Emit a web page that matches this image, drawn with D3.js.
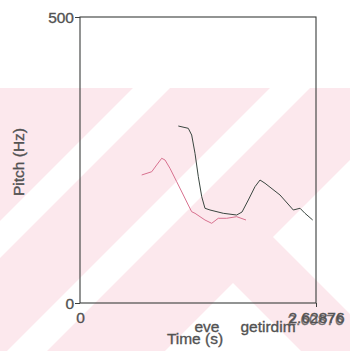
<!DOCTYPE html>
<html><head><meta charset="utf-8">
<script src="https://cdn.jsdelivr.net/npm/d3@7"></script>
<style>body{margin:0;background:#fff}svg{display:block}</style>
</head><body>
<script>
// data
const pinkTime = [0.687,0.799,0.854,0.910,0.947,1.002,1.077,1.151,1.206,1.244,1.281,1.337,1.392,1.467,1.540,1.634,1.745,1.849];
const pinkHz   = [223.8,229.5,241.3,253.0,250.0,235.5,212.1,188.8,171.3,159.6,156.8,150.9,145.1,139.3,148.1,148.1,150.9,145.1];
const darkTime = [1.095,1.206,1.244,1.281,1.318,1.356,1.392,1.448,1.596,1.745,1.805,1.875,1.949,2.005,2.061,2.228,2.376,2.451,2.506,2.592];
const darkHz   = [309.4,305.4,293.7,261.7,220.8,185.8,165.6,162.6,156.8,153.8,159.1,180.1,203.3,215.0,209.3,188.8,162.6,165.6,156.8,145.1];
const yTicks = [0, 500];
const xTickLabels = ["0", "2.62876"];
const xDomain = [0, 2.62876];
const words = ["eve", "getirdim"];

const W = 350, H = 351;
const svg = d3.select("body").append("svg").attr("width", W).attr("height", H);

// watermark background
const bg = svg.append("g");
bg.append("rect").attr("x",0).attr("y",88).attr("width",W).attr("height",H-88).attr("fill","#fce8ed");
const whites = [
  [[133,88],[170,88],[0,258],[0,221]],
  [[270,88],[310,88],[47,351],[7,351]],
  [[273,237],[350,160],[350,314]],
  [[233,283],[165,351],[301,351]]
];
bg.selectAll("polygon").data(whites).join("polygon")
  .attr("points", d => d.map(p => p.join(",")).join(" "))
  .attr("fill","#fff");

const L = 80, R = 316, T = 17, B = 303;
const x = d3.scaleLinear().domain(xDomain).range([L, R]);
const y = d3.scaleLinear().domain([0, 500]).range([B, T]);

const ink = "#3a3d3b", txt = "#525252";
const font = "Liberation Sans, Arial, sans-serif";
const styleText = s => s.attr("fill",txt).attr("stroke",txt).attr("stroke-width",0.35)
  .style("font-family",font).style("font-size","15.5px");

// frame
svg.append("rect").attr("x",L).attr("y",T).attr("width",R-L).attr("height",B-T)
  .attr("fill","none").attr("stroke",ink).attr("stroke-width",1.1);

// y axis ticks
const yAxis = d3.axisLeft(y).tickValues(yTicks).tickSize(5).tickPadding(1).tickFormat(d3.format("d"));
const ya = svg.append("g").attr("transform",`translate(${L},0)`).call(yAxis);
ya.select(".domain").remove();
ya.selectAll("line").attr("stroke",ink);
styleText(ya.selectAll("text")).attr("dy","0.35em");

// x axis labels
const xa = svg.append("g").attr("transform",`translate(0,${B})`)
  .call(d3.axisBottom(x).tickValues(xDomain).tickSize(4).tickFormat((d,i)=>xTickLabels[i]));
xa.select(".domain").remove();
xa.selectAll("line").attr("stroke",ink).attr("opacity", (d,i)=> i===1?1:0);
styleText(xa.selectAll("text")).attr("y",9);
// overlapping ghost label
styleText(svg.append("text").attr("x",x(xDomain[1])-0.5).attr("y",B+22).attr("text-anchor","middle"))
  .attr("opacity",0.8).text("2.60876");

// axis titles
styleText(svg.append("text").attr("x",195).attr("y",344).attr("text-anchor","middle")).text("Time (s)");
styleText(svg.append("text").attr("transform","translate(24,162) rotate(-90)").attr("text-anchor","middle")).text("Pitch (Hz)");

// words
styleText(svg.append("text").attr("x",207).attr("y",332).attr("text-anchor","middle")).text(words[0]);
styleText(svg.append("text").attr("x",268).attr("y",332).attr("text-anchor","middle")).text(words[1]);

// curves
const line = d3.line().x(d=>x(d[0])).y(d=>y(d[1]));
svg.append("path").datum(d3.zip(pinkTime, pinkHz)).attr("d",line)
  .attr("fill","none").attr("stroke","#d8718f").attr("stroke-width",1);
svg.append("path").datum(d3.zip(darkTime, darkHz)).attr("d",line)
  .attr("fill","none").attr("stroke","#3a4640").attr("stroke-width",1);
</script>
</body></html>
